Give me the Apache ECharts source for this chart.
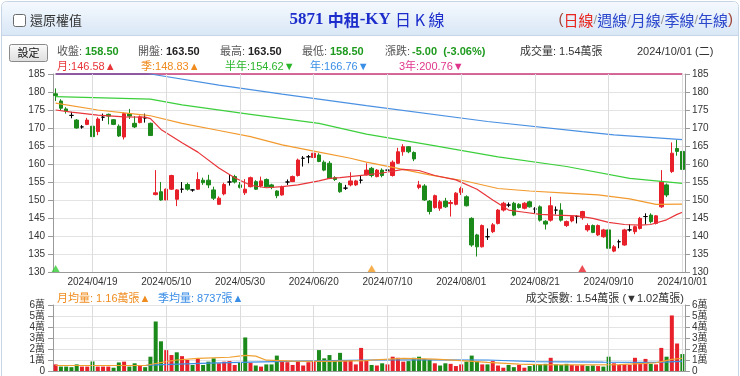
<!DOCTYPE html>
<html>
<head>
<meta charset="utf-8">
<script src="https://cdn.jsdelivr.net/npm/echarts@6.0.0/dist/echarts.min.js"></script>
<style>
html,body{margin:0;padding:0;background:#ffffff;}
#chart{width:740px;height:376px;}
</style>
</head>
<body>
<div id="chart"></div>
<script>
// ---------------- data ----------------
const dates = [
'2024/04/10','2024/04/11','2024/04/12','2024/04/15','2024/04/16','2024/04/17','2024/04/18','2024/04/19','2024/04/22','2024/04/23','2024/04/24','2024/04/25','2024/04/26','2024/04/29','2024/04/30',
'2024/05/02','2024/05/03','2024/05/06','2024/05/07','2024/05/08','2024/05/09','2024/05/10','2024/05/13','2024/05/14','2024/05/15','2024/05/16','2024/05/17','2024/05/20','2024/05/21','2024/05/22','2024/05/23','2024/05/24','2024/05/27','2024/05/28','2024/05/29','2024/05/30','2024/05/31',
'2024/06/03','2024/06/04','2024/06/05','2024/06/06','2024/06/07','2024/06/11','2024/06/12','2024/06/13','2024/06/14','2024/06/17','2024/06/18','2024/06/19','2024/06/20','2024/06/21','2024/06/24','2024/06/25','2024/06/26','2024/06/27','2024/06/28',
'2024/07/01','2024/07/02','2024/07/03','2024/07/04','2024/07/05','2024/07/08','2024/07/09','2024/07/10','2024/07/11','2024/07/12','2024/07/15','2024/07/16','2024/07/17','2024/07/18','2024/07/19','2024/07/22','2024/07/23','2024/07/26','2024/07/29','2024/07/30','2024/07/31',
'2024/08/01','2024/08/02','2024/08/05','2024/08/06','2024/08/07','2024/08/08','2024/08/09','2024/08/12','2024/08/13','2024/08/14','2024/08/15','2024/08/16','2024/08/19','2024/08/20','2024/08/21','2024/08/22','2024/08/23','2024/08/26','2024/08/27','2024/08/28','2024/08/29','2024/08/30',
'2024/09/02','2024/09/03','2024/09/04','2024/09/05','2024/09/06','2024/09/09','2024/09/10','2024/09/11','2024/09/12','2024/09/13','2024/09/16','2024/09/18','2024/09/19','2024/09/20','2024/09/23','2024/09/24','2024/09/25','2024/09/26','2024/09/27','2024/09/30','2024/10/01'
];
const tickDates = ['2024/04/19','2024/05/10','2024/05/30','2024/06/20','2024/07/10','2024/08/01','2024/08/21','2024/09/10','2024/10/01'];

const opens = [
179.5,177.5,175.3,173.5,172.2,170.3,171,170.5,169,173,173.8,172.3,170.5,167.5,174,171.3,171.5,172.8,171.3,
151.5,152.3,150,153,150.2,153,154.3,152.8,153,155.5,155.5,152.8,148.8,151.7,155,156.5,154.2,152,153.7,155.1,153.9,
155.7,154.2,152.5,151.4,155,155.1,156.8,161.6,162,161.8,162.5,160.5,160.2,156.2,154.6,153.3,154.2,154.2,155.5,157,
158.8,156.5,158.3,158.3,156.8,160.2,163.4,164.8,163.2,153.5,153.9,149.7,147.9,147.7,149.7,149,148.8,152.1,150.9,144.9,
140.3,137,139.8,141.2,143.5,147.2,148.6,149.1,148.8,147.7,149.5,147.5,148.1,144.1,144.4,147.2,147.2,142.9,144.2,145.4,
145.1,141.7,142.9,140.3,139.8,141.7,135.8,138.4,137.5,141.7,141.2,142.1,145.4,145.8,143.5,148.1,154.2,157.9,164.3,163.5
];
const closes = [
179,175.5,174.7,173.5,170,170.3,172.2,167.6,172.5,173,173.3,171,167.8,174,173.3,170.3,173.1,172.8,167.9,
152,150,153,156.8,152.8,153,153,152.8,155.7,154.8,154.2,150.5,150.5,154.3,155,155,153.5,153,156.2,153,155.3,
153.7,153.5,151.2,153.7,155,156.5,161.1,161.6,162,163,160.7,158.3,156,155.7,152.3,153.3,155.3,155.3,155.5,158.3,
156.8,158.3,156.8,158.3,160.5,163.4,164.8,163.4,161.4,154.2,150,146.8,151.2,149.5,148.1,149.3,151.9,153.2,148.4,137.5,
137,142.9,139.8,143.1,147.2,149.1,148.6,145.8,147.9,149.1,148.1,147.5,144.4,143.3,148.4,147.2,144.4,144,145.4,145.4,
146.8,142.9,141,142.9,141.7,136.6,137,138.4,141.7,141.7,142.6,144.9,145.4,144,145.6,155.1,151.4,163,163.5,158.5
];
const lows = [
177.5,175,174,172.7,169.8,169.8,170.8,164.8,168,172,171,170.8,167.5,166.8,172.5,170,171.3,171.5,167.8,
151.3,149.8,150,152.8,148.3,152,152.6,152.3,152.8,154.2,153.3,150,148.6,151.3,154,154.6,153.2,151.4,153.5,152.8,153.5,
153.5,153,150.5,151.2,154.2,155,156.5,159.3,160.2,161.6,160.5,158,155.8,155.3,152,152.8,153.8,153.9,154.6,156.8,
156.3,156.3,156.3,157.5,156.5,160,162.3,163,160.8,153,149.8,146,147.6,147,147.8,145.4,148.5,151.4,148.2,137,
134.3,136.8,138.9,140.8,143.2,146.8,148,145.5,147.6,147.4,147.9,146.3,144,141.8,144,146,144,142.5,143.8,143.5,
144.5,141.2,140.8,140,139.5,136.1,135.5,136.6,137.3,141.2,140.5,141.8,143.2,143.5,143.2,147.8,150.8,157.5,162.3,158.5
];
const highs = [
181,178,175.8,174.5,172.5,170.8,172.8,171.3,173,174,174,172.5,171,174.3,175.3,173.3,173.5,174,171.5,
158.3,155,153.2,157,153,155,154.8,153,157.7,156.2,157,153.7,151,154.8,157,157,155,155.8,156.5,155.5,156.5,
156,154.5,152.7,154,155.7,156.8,161.5,162.2,162.5,163.6,163,161,160.8,156.6,155,154.2,157.7,155.6,156.8,160.2,
159.2,158.6,158.8,159.2,161,164.5,165.5,165,163.5,155.3,154.4,150,151.5,150,150.6,150,152.2,153.7,151.3,145.2,
140.6,143.2,142.1,143.6,147.5,149.5,149.3,149.5,149.1,149.4,149.8,148,148.5,144.4,150.9,148.2,149.1,144.3,145.7,145.8,
147,143.5,143.2,143.2,142,142,137.5,139,142,143.3,142.9,145.3,146.3,146.3,145.8,158.3,154.6,166,166.7,163.5
];
// 成交量 (萬張)
const volumes = [
0.6,0.4,0.4,0.35,0.6,0.4,0.4,0.87,0.4,0.4,0.4,0.3,0.78,0.85,0.4,0.7,0.45,0.35,1.3,
4.5,2.7,1.9,1.45,1.7,1.35,1.0,0.55,1.1,0.55,0.85,1.15,0.7,0.85,0.9,0.55,0.75,3.05,0.75,0.5,0.4,
0.6,0.6,1.4,0.85,0.8,0.55,0.9,0.5,0.8,0.9,1.9,1.15,1.45,1.0,1.65,1.0,1.0,0.6,2.1,1.0,
0.55,0.5,0.7,0.6,1.3,1.2,0.85,0.9,1.2,1.3,1.1,1.0,0.7,0.5,0.7,0.65,0.45,0.6,0.85,1.4,
0.9,0.6,0.6,0.9,0.5,0.3,0.55,0.35,0.55,0.3,0.45,0.55,0.6,0.65,1.2,0.6,0.55,0.65,0.55,0.5,
0.55,0.45,0.5,0.45,0.4,1.3,0.7,0.55,0.6,0.55,1.2,0.8,1.1,0.65,0.6,2.1,1.3,5.05,2.5,1.54
];
// moving averages: [category index, value]
const maMonth = [[0,175],[3,174.4],[8,173.6],[13,173.1],[17,173],[18,172.6],[20,169.6],[24,165.9],[27,163.3],[31,158.9],[34,156.2],[37,154.1],[40,153.4],[43,153.7],[46,154.2],[50,155.3],[52,156],[54,156.2],[59,157],[62,157.5],[66,158.5],[69,158.2],[72,156.8],[76,155.6],[80,153],[83,150],[86,147.2],[89,146.6],[92,146],[95,145.8],[99,145.6],[102,144.9],[105,143.8],[108,143.2],[111,143],[113,143.2],[116,144.5],[118,146],[119,146.58]];
const maQuarter = [[0,176.9],[8,175],[17,173.6],[18,173.4],[24,171.3],[31,169.3],[37,167.6],[43,165.3],[50,163.3],[56,161.6],[59,160.5],[65,158.8],[71,157],[78,155.2],[84,153.2],[90,152.5],[97,151.9],[103,151.4],[109,150.3],[114,148.8],[119,148.83]];
const maHalfYear = [[0,178.7],[18,178],[24,176.4],[37,173.8],[50,171.3],[59,168.3],[71,165.3],[84,162],[97,159.3],[109,156],[119,154.62]];
const maYear = [[0,185],[18,185],[31,181.9],[43,179.4],[59,176.2],[82,171.8],[100,169],[106,168.1],[119,166.76]];
const ma3Year = [[0,200.76],[119,200.76]];
const volMaMonth = [[0,0.5],[17,0.5],[19,0.68],[21,0.85],[23,1.0],[27,1.15],[33,1.25],[36,1.42],[38,1.35],[40,0.98],[45,0.9],[52,0.88],[59,0.95],[60,1.0],[66,1.15],[72,1.08],[77,0.95],[82,0.78],[88,0.62],[92,0.58],[100,0.55],[107,0.58],[112,0.7],[114,0.75],[115,0.85],[117,1.05],[119,1.16]];
const volMaQuarter = [[0,0.5],[17,0.5],[19,0.56],[29,0.72],[37,0.8],[46,0.9],[59,1.0],[70,1.02],[82,1.0],[91,0.86],[104,0.8],[114,0.78],[119,0.87]];
const priceAxis = {min:130, max:185, step:5};
const volAxis = {min:0, max:6, step:1};
const markerIdx = [0, 60, 100];

// ---------------- styles ----------------
const F = '"Liberation Sans", Arial, "Noto Sans CJK TC", sans-serif';
const CJK = '"Noto Sans CJK TC", "Liberation Sans", sans-serif';
const UP = '#e8202a', DOWN = '#1b8a1b';
const C_M = '#e8353a', C_Q = '#f29a2e', C_H = '#3ccf3c', C_Y = '#4a90e2', C_3 = '#c83a78';
const markerColors = ['#33cc33', '#f39a1e', '#e8202a'];
const gridLine = '#e3e3e3';

const chart = echarts.init(document.getElementById('chart'), null, {renderer:'canvas'});
const candleData = dates.map((d,i)=>[opens[i], closes[i], lows[i], highs[i]]);
const volData = volumes.map((v,i)=>{
  const up = i === 0 ? true : closes[i] >= closes[i-1];
  return {value:v, itemStyle:{color: up ? UP : DOWN}};
});
const isTick = (i)=> tickDates.indexOf(dates[i]) >= 0;
const vLines = tickDates.map(d=>({xAxis:d}));
const clampP = (arr)=>arr.map(([i,v])=>[i, Math.min(Math.max(v, priceAxis.min), priceAxis.max)]);

function T(x,y,text,fill,o){
  o = o||{};
  return {type:'text', x:x, y:y, silent:true, z:10,
    style:{text:text, fill:fill, fontSize:o.s||11, fontWeight:o.w||'normal', fontFamily:o.f||F,
           align:o.a||'left', verticalAlign:'middle'}};
}
const last = dates.length-1;
const chg = closes[last]-closes[last-1];
const pct = chg/closes[last-1]*100;
const fmt = v=>v.toFixed(2);

const graphics = [
  {type:'rect', shape:{x:1.5,y:1.5,width:737,height:390,r:5}, style:{fill:'none', stroke:'#c6d4e3', lineWidth:1}, silent:true, z:0},
  {type:'rect', shape:{x:2,y:2,width:736,height:33,r:[5,5,0,0]}, silent:true, z:0,
    style:{fill:new echarts.graphic.LinearGradient(0,0,0,1,[{offset:0,color:'#f5f9fe'},{offset:1,color:'#d9e7f6'}])}},
  {type:'line', shape:{x1:2,y1:35.5,x2:738,y2:35.5}, style:{stroke:'#c6d6e8', lineWidth:1}, silent:true},
  {type:'rect', shape:{x:13.5,y:14.5,width:12,height:12,r:2}, style:{fill:'#fff', stroke:'#6b6b6b', lineWidth:1}, silent:true},
  T(30,20,'還原權值','#333',{s:13,f:CJK}),
  {type:'text', x:367, y:20, silent:true,
    style:{text:'{n|5871 }{c|中租}{n|-KY }{d|日 K 線}', align:'center', verticalAlign:'middle',
      rich:{
        n:{fill:'#1c2dcc', fontSize:17, fontWeight:'bold', fontFamily:'"Liberation Serif", serif'},
        c:{fill:'#1c2dcc', fontSize:16, fontWeight:'bold', fontFamily:CJK},
        d:{fill:'#1c2dcc', fontSize:16, fontWeight:'normal', fontFamily:CJK}
      }}},
  {type:'text', x:733, y:20, silent:true,
    style:{text:'{p|(}{r|日線}{s|/}{b|週線}{s|/}{b|月線}{s|/}{b|季線}{s|/}{b|年線}{p|)}', align:'right', verticalAlign:'middle',
      rich:{
        p:{fill:'#a0453a', fontSize:15, fontFamily:F},
        r:{fill:'#e8251f', fontSize:15, fontFamily:CJK},
        b:{fill:'#2b47cc', fontSize:15, fontFamily:CJK},
        s:{fill:'#999', fontSize:13, fontFamily:F}
      }}},
  {type:'rect', shape:{x:9.5,y:44.5,width:38,height:17,r:2}, silent:true,
    style:{fill:new echarts.graphic.LinearGradient(0,0,0,1,[{offset:0,color:'#fbfbfb'},{offset:1,color:'#dedede'}]), stroke:'#8a8a8a', lineWidth:1}},
  T(28.5,53,'設定','#111',{s:11,a:'center',f:CJK}),
  T(57,52,'收盤:','#555'), T(85,52,fmt(closes[last]),'#1e9a1e',{w:'bold'}),
  T(138,52,'開盤:','#555'), T(166,52,fmt(opens[last]),'#222',{w:'bold'}),
  T(220,52,'最高:','#555'), T(248,52,fmt(highs[last]),'#222',{w:'bold'}),
  T(302,52,'最低:','#555'), T(330,52,fmt(lows[last]),'#1e9a1e',{w:'bold'}),
  T(385,52,'漲跌:','#555'), T(412,52,fmt(chg)+'  ('+fmt(pct)+'%)','#1e9a1e',{w:'bold'}),
  T(520,52,'成交量: '+volumes[last].toFixed(2)+'萬張','#333'),
  T(637,52,dates[last]+' (二)','#333'),
  T(57,67,'月:'+fmt(maMonth[maMonth.length-1][1])+'▲',C_M),
  T(141,67,'季:'+fmt(maQuarter[maQuarter.length-1][1])+'▲','#f08c1e'),
  T(225,67,'半年:'+fmt(maHalfYear[maHalfYear.length-1][1])+'▼','#2ab52a'),
  T(310,67,'年:'+fmt(maYear[maYear.length-1][1])+'▼','#3a8ee6'),
  T(399,67,'3年:'+fmt(ma3Year[ma3Year.length-1][1])+'▼','#e0358c'),
  T(57,299,'月均量: '+volMaMonth[volMaMonth.length-1][1].toFixed(2)+'萬張▲','#f08c1e'),
  T(158,299,'季均量: 8737張▲','#3a8ee6'),
  T(684,299,'成交張數: '+volumes[last].toFixed(2)+'萬張 (▼1.02萬張)','#333',{a:'right'})
];

const axisLbl = {color:'#333', fontSize:10, fontFamily:F};
function yAx(grid, pos, a, fmtFn, split){
  return {type:'value', gridIndex:grid, position:pos, min:a.min, max:a.max, interval:a.step,
    axisLine:{show:true, lineStyle:{color:'#9a9a9a'}},
    axisTick:{show:true, length:5, lineStyle:{color:'#9a9a9a'}},
    axisLabel:Object.assign({margin:pos==='left'?8:7, formatter:fmtFn}, axisLbl),
    splitLine:{show:split, lineStyle:{color:gridLine, width:1}}};
}
const volFmt = v=> v===0 ? '0' : v+'萬';

const lineS = (name, data, color, xi, yi, z, w)=>({
  name:name, type:'line', xAxisIndex:xi, yAxisIndex:yi, data:data, showSymbol:false, symbol:'none',
  smooth:false, silent:true, z:z, lineStyle:{color:color, width:w||1.2}, clip:false
});

const option = {
  animation:false,
  backgroundColor:'#ffffff',
  graphic:graphics,
  grid:[
    {left:53, right:55, top:74, height:198, outerBoundsMode:'none', containLabel:false},
    {left:53, right:55, top:305, height:66, outerBoundsMode:'none', containLabel:false}
  ],
  xAxis:[
    {type:'category', gridIndex:0, data:dates, boundaryGap:true,
      axisLine:{show:true, lineStyle:{color:'#9a9a9a'}}, axisTick:{show:false},
      axisLabel:Object.assign({interval:(i)=>isTick(i), margin:5, hideOverlap:false}, axisLbl),
      splitLine:{show:false}},
    {type:'category', gridIndex:1, data:dates, boundaryGap:true,
      axisLine:{show:true, lineStyle:{color:'#9a9a9a'}}, axisTick:{show:false},
      axisLabel:{show:false}, splitLine:{show:false}}
  ],
  yAxis:[
    yAx(0,'left',priceAxis,null,true),
    yAx(0,'right',priceAxis,null,false),
    yAx(1,'left',volAxis,volFmt,true),
    yAx(1,'right',volAxis,volFmt,false)
  ],
  series:[
    Object.assign(lineS('3年', clampP(ma3Year), C_3, 0, 0, 1, 1.5), {
      markLine:{silent:true, symbol:['none','none'], label:{show:false}, animation:false,
        lineStyle:{color:'#dcdcdc', type:'solid', width:1}, emphasis:{disabled:true}, data:vLines}}),
    {name:'K', type:'candlestick', xAxisIndex:0, yAxisIndex:0, data:candleData, z:2, silent:true,
      barWidth:4,
      itemStyle:{color:UP, color0:DOWN, borderColor:UP, borderColor0:DOWN, borderColorDoji:'#000', borderWidth:1}},
    lineS('年', clampP(maYear), '#4a55b0', 0, 0, 3, 1.4),
    lineS('半年', clampP(maHalfYear), C_H, 0, 0, 3),
    lineS('季', clampP(maQuarter), C_Q, 0, 0, 3),
    lineS('月', clampP(maMonth), C_M, 0, 0, 3),
    {name:'mk', type:'scatter', xAxisIndex:0, yAxisIndex:0, silent:true, z:4,
      symbol:'triangle', symbolSize:[8,7], symbolOffset:[0,-3.5],
      data:markerIdx.map((idx,k)=>({value:[idx, priceAxis.min], itemStyle:{color:markerColors[k]}}))},
    {name:'vol', type:'bar', xAxisIndex:1, yAxisIndex:2, data:volData, barWidth:4, silent:true, z:2},
    Object.assign(lineS('季均量', volMaQuarter, '#3a8ee6', 1, 2, 3, 1.2), {
      markLine:{silent:true, symbol:['none','none'], label:{show:false}, animation:false,
        lineStyle:{color:'#dcdcdc', type:'solid', width:1}, emphasis:{disabled:true}, data:vLines}}),
    lineS('月均量', volMaMonth, '#f0a030', 1, 2, 4, 1.2)
  ]
};
// year line: blue once inside the plot, darker where it runs along the top edge
option.series[2].lineStyle = {width:1.2, color:new echarts.graphic.LinearGradient(0,0,1,0,[
  {offset:0,color:'#4a4aa8'},{offset:0.15,color:'#4a4aa8'},{offset:0.16,color:C_Y},{offset:1,color:C_Y}])};
chart.setOption(option);
</script>
</body>
</html>
